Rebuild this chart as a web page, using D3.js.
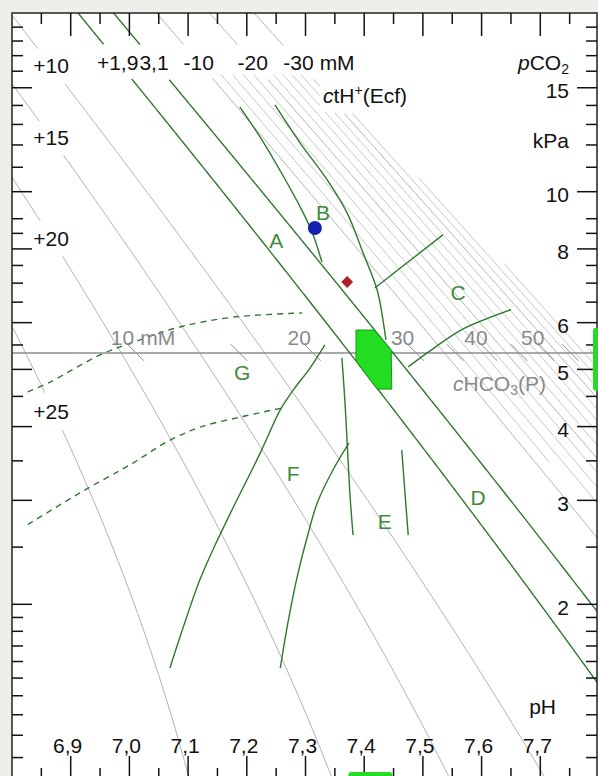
<!DOCTYPE html>
<html>
<head>
<meta charset="utf-8">
<script src="https://cdn.jsdelivr.net/npm/d3@7/dist/d3.min.js"></script>
<style>
  body { margin: 0; background: #eeeeea; }
  svg { display: block; font-family: "Liberation Sans", Arial, sans-serif; }
</style>
</head>
<body>
<svg id="chart" width="598" height="776"></svg>
<script>
// axis ticks
var phLabels = [6.9, 7.0, 7.1, 7.2, 7.3, 7.4, 7.5, 7.6, 7.7];
var phMinor = [6.85, 6.95, 7.05, 7.15, 7.25, 7.35, 7.45, 7.55, 7.65, 7.75];
var pco2Labels = [15, 10, 8, 6, 5, 4, 3, 2];
var pco2Minor = [19, 18, 17, 16, 14, 13, 12, 11, 9, 8.5, 7.5, 7, 6.5, 5.5, 4.5, 3.5, 2.5,
                 1.9, 1.8, 1.7, 1.6, 1.5, 1.4, 1.3, 1.2, 1.1];

// iso ctH+(Ecf) lines (mM)
var ctHLeft = [10, 15, 20, 25];
var ctHLeftText = ["+10", "+15", "+20", "+25"];
var ctHTop = [1.9, -3.1, -10, -20, -30];
var ctHTopText = ["+1,9", "3,1", "-10", "-20", "-30"];
var ctHGreen = [1.9, -3.1];
// fine ctH+ lines in the alkaline field, the cHCO3 band and top pCO2 they fill
var ctHFine = [-12, -14, -16, -18, -22, -24, -26, -28, -32, -34, -36, -38];
var fineHCO3 = [33, 60];
var fineTopPCO2 = 15.8;

// cHCO3(P) scale on the normal pCO2 line
var normalPCO2 = 5.33;
var hco3Ticks = [10, 15, 20, 25, 30, 35, 40, 45, 50, 55];
var hco3Labels = [10, 20, 30, 40, 50];

// green area borders [pH, pCO2 kPa]
var borderBright = [[7.248, 14.03], [7.291, 12.09], [7.337, 10.47], [7.371, 9.20], [7.398, 7.88], [7.422, 6.82], [7.432, 6.06], [7.437, 5.61]];
var borderBleft = [[7.188, 13.92], [7.226, 12.23], [7.263, 10.59], [7.291, 9.42], [7.311, 8.55], [7.328, 7.60]];
var borderCupper = [[7.418, 6.87], [7.534, 8.45]];
var borderClower = [[7.475, 5.05], [7.514, 5.39], [7.565, 5.83], [7.650, 6.31]];
var borderFleft = [[7.333, 5.50], [7.308, 5.03], [7.279, 4.61], [7.257, 4.27], [7.223, 3.61], [7.177, 2.92], [7.146, 2.52], [7.120, 2.20], [7.095, 1.87], [7.069, 1.56]];
var borderFright = [[7.374, 3.75], [7.347, 3.38], [7.320, 2.97], [7.303, 2.60], [7.286, 2.23], [7.270, 1.86], [7.257, 1.56]];
var borderEleft = [[7.362, 5.23], [7.367, 4.44], [7.371, 3.75], [7.376, 3.04], [7.381, 2.62]];
var borderEright = [[7.464, 3.65], [7.470, 3.04], [7.475, 2.62]];
var dashUpper = [[6.827, 4.58], [6.865, 4.76], [6.950, 5.29], [7.018, 5.61], [7.086, 5.90], [7.177, 6.13], [7.294, 6.23]];
var dashLower = [[6.827, 2.73], [6.916, 3.09], [7.006, 3.47], [7.064, 3.77], [7.120, 3.99], [7.188, 4.15], [7.260, 4.30]];

// normal area and reference ranges
var normalArea = [[7.386, 5.83], [7.417, 5.83], [7.446, 5.39], [7.447, 4.63], [7.422, 4.63], [7.386, 5.17]];
var normalPH = [7.373, 7.448];
var normalPCO2Range = [4.6, 5.88];

// patient points
var bluePoint = [7.316, 8.68];
var redPoint = [7.371, 7.03];

// area letters
var areaNames = ["A", "B", "C", "D", "E", "F", "G"];
var areaPH = [7.250, 7.330, 7.560, 7.594, 7.435, 7.279, 7.192];
var areaPCO2 = [8.28, 9.24, 6.76, 3.04, 2.76, 3.33, 4.95];

var svg = d3.select("#chart");
var x = d3.scaleLinear().domain([6.8, 7.8]).range([12, 599]);
var y = d3.scaleLog().domain([1, 20]).range([782, 14]);
var green = "#2d7a2d", grey = "#b0b0b0", textGrey = "#8a8a8a";
var fs = 21;

svg.append("rect").attr("x", 12).attr("y", 13).attr("width", 585).attr("height", 770).attr("fill", "#fff");
svg.append("clipPath").attr("id", "clip")
  .append("rect").attr("x", 12).attr("y", 13).attr("width", 585).attr("height", 770);
var plot = svg.append("g").attr("clip-path", "url(#clip)");

// chart geometry: Henderson-Hasselbalch + Van Slyke for ctH+(Ecf)
function hco3At(c, ph) { return 24.8 + 14.83 * (7.4 - ph) - c / 0.93; }
function pco2At(h, ph) { return h / (0.23 * Math.pow(10, ph - 6.1)); }
var phSteps = d3.range(6.79, 7.81, 0.002);
function isoCtH(c) {
  return phSteps.map(function(ph) { return [ph, pco2At(hco3At(c, ph), ph)]; })
    .filter(function(d) { return d[1] > 0.95 && d[1] < 21; });
}

var line = d3.line().x(function(d) { return x(d[0]); }).y(function(d) { return y(d[1]); });
var smooth = d3.line().curve(d3.curveCatmullRom).x(function(d) { return x(d[0]); }).y(function(d) { return y(d[1]); });

// labels on the ctH+ lines, lines get a gap under them
var labelLayer = svg.append("g").attr("font-size", fs).attr("fill", "#111");
var gaps = {};
function addLabel(c, txt, lx, ly) {
  var t = labelLayer.append("text").attr("x", lx).attr("y", ly)
    .attr("text-anchor", "middle").attr("dy", "0.36em").text(txt);
  var b = t.node().getBBox();
  gaps[c] = b;
  return b;
}
ctHLeft.forEach(function(c, i) {
  var ph = x.invert(51);
  addLabel(c, ctHLeftText[i], 51, y(pco2At(hco3At(c, ph), ph)) + (c == 25 ? 6 : 0));
});
ctHTop.forEach(function(c, i) {
  var pts = isoCtH(c);
  var best = d3.least(pts, function(d) { return Math.abs(y(d[1]) - 62); });
  var b = addLabel(c, ctHTopText[i], x(best[0]), 62);
  if (c == -30) {
    labelLayer.append("text").attr("x", b.x + b.width + 6).attr("y", 62).attr("dy", "0.36em").text("mM");
  }
});
var ct = labelLayer.append("text").attr("x", 323).attr("y", 95).attr("dy", "0.36em");
ct.append("tspan").attr("font-style", "italic").text("c");
ct.append("tspan").text("tH");
ct.append("tspan").attr("font-size", 14).attr("dy", "-0.55em").text("+");
ct.append("tspan").attr("dy", "0.4em").text("(Ecf)");
var ctBox = ct.node().getBBox();

function outside(b, d) {
  if (!b) return true;
  var px = x(d[0]), py = y(d[1]);
  return !(px > b.x - 3 && px < b.x + b.width + 3 && py > b.y - 5 && py < b.y + b.height + 5);
}
function drawCtH(c, color, width) {
  var cut = d3.line()
    .defined(function(d) { return outside(gaps[c], d) && outside(ctBox, d); })
    .x(function(d) { return x(d[0]); }).y(function(d) { return y(d[1]); });
  plot.append("path").attr("d", cut(isoCtH(c)))
    .attr("fill", "none").attr("stroke", color).attr("stroke-width", width);
}
[10, 15, 20, 25, -10, -20, -30].forEach(function(c) { drawCtH(c, grey, 1); });

var fineLine = d3.line()
  .defined(function(d) { return outside(ctBox, d); })
  .x(function(d) { return x(d[0]); }).y(function(d) { return y(d[1]); });
ctHFine.forEach(function(c) {
  var seg = isoCtH(c).filter(function(d) {
    var h = hco3At(c, d[0]);
    return h >= fineHCO3[0] && h <= fineHCO3[1] && d[1] <= fineTopPCO2;
  });
  plot.append("path").attr("d", fineLine(seg)).attr("fill", "none")
    .attr("stroke", "#c4c4c4").attr("stroke-width", 1);
});

// normal pCO2 line with cHCO3 scale
var yN = y(normalPCO2);
plot.append("line").attr("x1", 12).attr("x2", 597).attr("y1", yN).attr("y2", yN)
  .attr("stroke", "#8c8c8c").attr("stroke-width", 1.5);
hco3Ticks.forEach(function(h) {
  var seg = [1.035, 0.97].map(function(f) {
    var p = normalPCO2 * f;
    return [6.1 + Math.log10(h / (0.23 * p)), p];
  });
  plot.append("path").attr("d", line(seg)).attr("stroke", "#8c8c8c").attr("stroke-width", 1);
});
hco3Labels.forEach(function(h) {
  var xc = x(6.1 + Math.log10(h / (0.23 * normalPCO2)));
  svg.append("text").attr("x", xc - 2).attr("y", yN - 8).attr("text-anchor", "end")
    .attr("font-size", fs).attr("fill", textGrey).text(h);
  if (h == 10) {
    svg.append("text").attr("x", xc + 4).attr("y", yN - 8).attr("font-size", fs)
      .attr("fill", textGrey).text("mM");
  }
});

// green borders
ctHGreen.forEach(function(c) { drawCtH(c, green, 1.4); });
[borderBright, borderBleft, borderCupper, borderClower, borderFleft, borderFright, borderEleft, borderEright]
  .forEach(function(d) {
    plot.append("path").attr("d", smooth(d)).attr("fill", "none").attr("stroke", green).attr("stroke-width", 1.4);
  });
[dashUpper, dashLower].forEach(function(d) {
  plot.append("path").attr("d", smooth(d)).attr("fill", "none").attr("stroke", green)
    .attr("stroke-width", 1.4).attr("stroke-dasharray", "6,5");
});

// normal area
plot.append("path").attr("d", line(normalArea) + "Z")
  .attr("fill", "#22dd22").attr("stroke", "#119911").attr("stroke-width", 1);

// area letters
svg.append("g").selectAll("text").data(areaNames).join("text")
  .attr("x", function(d, i) { return x(areaPH[i]); })
  .attr("y", function(d, i) { return y(areaPCO2[i]); })
  .attr("text-anchor", "middle").attr("dy", "0.36em")
  .attr("font-size", fs).attr("fill", "#3c8c3c").text(function(d) { return d; });

// points
svg.append("circle").attr("cx", x(bluePoint[0])).attr("cy", y(bluePoint[1])).attr("r", 7)
  .attr("fill", "#1420b0");
svg.append("path").attr("d", d3.symbol(d3.symbolDiamond2, 90)())
  .attr("transform", "translate(" + x(redPoint[0]) + "," + y(redPoint[1]) + ")")
  .attr("fill", "#b0202c");

// frame and ticks
svg.append("rect").attr("x", 12).attr("y", 13).attr("width", 585).attr("height", 770)
  .attr("fill", "none").attr("stroke", "#222").attr("stroke-width", 1.5);
var ticks = svg.append("g").attr("stroke", "#111").attr("stroke-width", 1.5);
function phTick(v, len) {
  ticks.append("line").attr("x1", x(v)).attr("x2", x(v)).attr("y1", 13).attr("y2", 13 + len);
  ticks.append("line").attr("x1", x(v)).attr("x2", x(v)).attr("y1", 779).attr("y2", 779 - len);
}
phLabels.forEach(function(v) { phTick(v, 23); });
phMinor.forEach(function(v) { phTick(v, 11); });
function pTick(v, len) {
  ticks.append("line").attr("x1", 12).attr("x2", 12 + len).attr("y1", y(v)).attr("y2", y(v));
  ticks.append("line").attr("x1", 597).attr("x2", 597 - len).attr("y1", y(v)).attr("y2", y(v));
}
pco2Labels.forEach(function(v) { pTick(v, 20); });
pco2Minor.forEach(function(v) { pTick(v, 11); });

var axText = svg.append("g").attr("font-size", fs).attr("fill", "#111");
phLabels.forEach(function(v) {
  axText.append("text").attr("x", x(v) - 3).attr("y", 745).attr("dy", "0.36em")
    .attr("text-anchor", "middle").text(d3.format(".1f")(v).replace(".", ","));
});
pco2Labels.forEach(function(v) {
  axText.append("text").attr("x", 569).attr("y", y(v) + 3).attr("dy", "0.36em")
    .attr("text-anchor", "end").text(v);
});
axText.append("text").attr("x", 569).attr("y", 140).attr("dy", "0.36em").attr("text-anchor", "end").text("kPa");
axText.append("text").attr("x", 556).attr("y", 706).attr("dy", "0.36em").attr("text-anchor", "end").text("pH");
var pc = axText.append("text").attr("x", 569).attr("y", 62).attr("dy", "0.36em").attr("text-anchor", "end");
pc.append("tspan").attr("font-style", "italic").text("p");
pc.append("tspan").text("CO");
pc.append("tspan").attr("font-size", 14).attr("dy", "0.3em").text("2");
var hc = svg.append("text").attr("x", 453).attr("y", 383).attr("dy", "0.36em")
  .attr("font-size", fs).attr("fill", textGrey);
hc.append("tspan").attr("font-style", "italic").text("c");
hc.append("tspan").text("HCO");
hc.append("tspan").attr("font-size", 14).attr("dy", "0.3em").text("3");
hc.append("tspan").attr("dy", "-0.2em").text("(P)");

// reference range marks on the axes
svg.append("rect").attr("x", 593).attr("width", 9).attr("rx", 3)
  .attr("y", y(normalPCO2Range[1])).attr("height", y(normalPCO2Range[0]) - y(normalPCO2Range[1]))
  .attr("fill", "#22dd22");
svg.append("rect").attr("y", 772).attr("height", 10).attr("rx", 3)
  .attr("x", x(normalPH[0])).attr("width", x(normalPH[1]) - x(normalPH[0]))
  .attr("fill", "#22dd22");
</script>
</body>
</html>
